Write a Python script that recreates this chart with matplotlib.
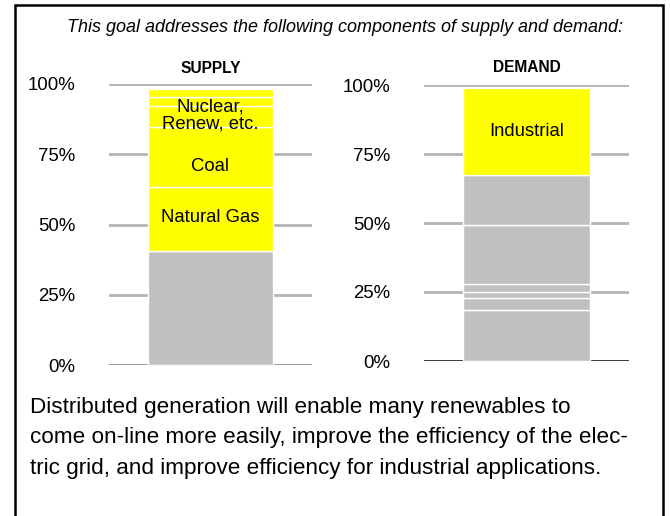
import matplotlib
matplotlib.use("Agg")
import matplotlib.pyplot as plt
from matplotlib.patches import Rectangle

plt.rcParams['font.family'] = ['Liberation Sans', 'DejaVu Sans']

# Stacked segments, bottom to top, in percent
supply_values = [40.6, 22.7, 21.4, 7.6, 3.0, 2.8]
supply_colors = ['#c0c0c0', '#ffff00', '#ffff00', '#ffff00', '#ffff00', '#ffff00']
supply_labels = ['', 'Natural Gas', 'Coal', 'Nuclear,\nRenew, etc.', '', '']

demand_values = [18.5, 4.4, 2.0, 2.9, 21.5, 18.0, 31.7]
demand_colors = ['#c0c0c0'] * 6 + ['#ffff00']
demand_labels = ['', '', '', '', '', '', 'Industrial']

ticks = [0, 25, 50, 75, 100]
tick_labels = ['0%', '25%', '50%', '75%', '100%']

title = 'This goal addresses the following components of supply and demand:'
caption = ('Distributed generation will enable many renewables to\n'
           'come on-line more easily, improve the efficiency of the elec-\n'
           'tric grid, and improve efficiency for industrial applications.')

fig = plt.figure(figsize=(6.7, 5.16), dpi=100)
W, H = 670, 516

# Frame around the panel
fig.patches.append(Rectangle((15 / W, -0.05), 648 / W, 1.04 - 5 / H + 0.01,
                             transform=fig.transFigure, fill=False,
                             edgecolor='black', linewidth=1.8))

fig.text(345 / W, 1 - 28 / H, title, ha='center', va='center',
         fontsize=13, style='italic')


def stacked(rect, values, colors, labels, heading, heading_y, base_color,
            label_offset):
    ax = fig.add_axes(rect)
    ax.set_xlim(0, 1)
    ax.set_ylim(0, 100)
    for t in ticks[1:]:
        ax.axhline(t, color='#b4b4b4', linewidth=2, zorder=1)
    ax.axhline(0, color=base_color, linewidth=1.8, zorder=1)
    bottom = 0
    for v, c, lab in zip(values, colors, labels):
        ax.bar(0.5, v, width=0.62, bottom=bottom, color=c,
               edgecolor='white', linewidth=1, zorder=2)
        if lab:
            ax.text(0.5, bottom + v / 2 + label_offset.get(lab, 0), lab,
                    ha='center', va='center', fontsize=13.3, linespacing=0.95,
                    zorder=3)
        bottom += v
    for s in ax.spines.values():
        s.set_visible(False)
    ax.set_xticks([])
    ax.set_yticks(ticks)
    ax.set_yticklabels(tick_labels, fontsize=13.4)
    ax.tick_params(axis='y', length=0, pad=24)
    ax.text(0.5, heading_y, heading, ha='center', va='center', fontsize=11.2,
            fontweight='bold')
    return ax


stacked([109 / W, 1 - 365 / H, 203 / W, 281 / H], supply_values,
        supply_colors, supply_labels, 'SUPPLY', 105.5, '#808080',
        {'Nuclear,\nRenew, etc.': 0.3, 'Natural Gas': 0.7, 'Coal': -3.5})
stacked([424 / W, 1 - 361 / H, 205 / W, 276 / H], demand_values,
        demand_colors, demand_labels, 'DEMAND', 106.5, 'black',
        {'Industrial': 0})

fig.text(30 / W, 1 - 438 / H, caption, ha='left', va='center',
         fontsize=16.2, linespacing=1.6)

fig.savefig('out.png', dpi=100)
